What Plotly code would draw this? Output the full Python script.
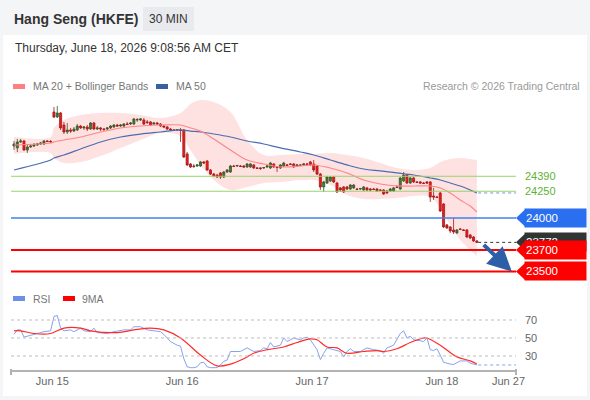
import plotly.graph_objects as go

W, H = 590, 400
FONT = "Liberation Sans, Arial, sans-serif"

# ---------------- data ----------------
opens = [24673,24655,24711,24720,24636,24664,24673,24683,24692,24692,24720,24715,
         24991,24944,24982,24869,24804,24823,24813,24823,24860,24842,24851,24832,24888,24832,24842,24832,24832,24842,
         24851,24869,24860,24860,24879,24879,24879,24916,24916,24916,24898,24898,24879,24888,24879,24860,24851,24832,
         24823,24823,24823,24823,
         24599,24505,24486,24486,24486,24524,24533,24449,24411,24402,24421,24383,24430,24430,24486,24486,24486,24486,
         24477,24477,24496,24468,24468,24468,24477,24468,24505,24477,24468,24486,24496,24505,24505,24486,24496,24496,
         24505,24524,24505,24486,24411,24290,24327,24346,24383,24327,24281,24290,24290,24271,24281,24271,24271,24262,
         24281,24271,24271,24271,24262,24262,24252,24252,24252,24290,24271,24346,24402,24327,24374,24337,24337,24327,
         24337,24337,24206,24196,24234,24131,23935,23916,23888,23860,23897,23888,23888,23841,23822,23785]
closes = [24692,24711,24720,24636,24664,24673,24683,24692,24701,24720,24715,24711,
          24944,24982,24842,24804,24823,24813,24832,24860,24842,24851,24832,24888,24832,24842,24832,24828,24842,24860,
          24869,24860,24869,24879,24875,24888,24926,24920,24926,24879,24894,24869,24888,24879,24860,24851,24832,24823,
          24820,24827,24818,24570,
          24496,24477,24482,24496,24524,24514,24449,24411,24393,24383,24383,24430,24449,24486,24482,24491,24482,24477,
          24505,24505,24468,24464,24463,24472,24486,24514,24477,24473,24496,24514,24492,24501,24477,24496,24492,24505,
          24501,24496,24449,24411,24290,24337,24383,24383,24337,24243,24262,24243,24271,24308,24308,24267,24275,24290,
          24262,24262,24267,24252,24258,24224,24234,24271,24281,24286,24374,24402,24327,24374,24337,24333,24327,24323,
          24327,24196,24196,24192,24065,23916,23907,23879,23869,23888,23893,23884,23822,23813,23785,23772]
highs = [24720,24739,24739,24729,24683,24683,24701,24701,24711,24729,24729,24729,
         25038,25047,24991,24898,24888,24842,24851,24879,24869,24860,24869,24898,24898,24860,24851,24842,24851,24869,
         24879,24879,24879,24888,24898,24898,24935,24935,24935,24935,24916,24907,24898,24898,24888,24869,24860,24842,
         24832,24832,24842,24832,
         24617,24514,24505,24505,24533,24533,24542,24458,24421,24411,24430,24440,24458,24496,24496,24496,24496,24496,
         24514,24514,24505,24477,24477,24477,24496,24524,24514,24486,24505,24524,24505,24514,24514,24505,24505,24514,
         24514,24533,24542,24496,24421,24346,24393,24393,24393,24337,24290,24299,24299,24318,24318,24281,24281,24299,
         24290,24281,24281,24281,24271,24271,24262,24281,24290,24308,24383,24430,24411,24383,24383,24346,24346,24337,
         24346,24346,24281,24206,24243,24140,23944,23925,24000,23897,23907,23897,23897,23850,23832,23794]
lows = [24636,24617,24701,24627,24608,24655,24664,24673,24683,24683,24711,24701,
        24935,24935,24823,24785,24785,24795,24804,24813,24832,24823,24813,24823,24823,24823,24813,24813,24823,24832,
        24842,24851,24851,24851,24869,24869,24869,24898,24907,24869,24879,24860,24869,24869,24851,24842,24823,24813,
        24813,24813,24711,24561,
        24486,24468,24468,24477,24477,24505,24440,24402,24383,24374,24365,24374,24421,24421,24477,24477,24477,24468,
        24468,24468,24458,24458,24449,24458,24468,24458,24468,24430,24458,24477,24486,24496,24468,24477,24486,24486,
        24496,24486,24430,24402,24262,24243,24318,24337,24327,24234,24243,24234,24262,24262,24271,24262,24262,24252,
        24252,24252,24262,24243,24252,24215,24224,24243,24243,24281,24262,24337,24318,24318,24327,24327,24318,24318,
        24318,24150,24168,24187,24056,23907,23897,23860,23850,23850,23888,23879,23813,23803,23776,23766]

band_idx = [0, 11, 12, 15, 20, 26, 32, 38, 44, 50, 53, 56, 60, 65, 70, 75, 80, 86, 90, 95,
            100, 105, 110, 115, 120, 125, 128, 131, 134, 137, 139]
ma20 = [24683,24701,24711,24729,24757,24804,24842,24860,24869,24869,24842,24813,24739,24636,24542,24505,
        24477,24486,24496,24468,24421,24355,24318,24299,24299,24299,24281,24234,24168,24112,24056]
bb_upper = [24757,24757,24842,24916,24963,24982,24982,24963,24935,24982,25066,25103,25085,24991,24729,24589,
            24589,24599,24599,24608,24589,24561,24514,24468,24449,24468,24524,24552,24561,24552,24542]
bb_lower = [24598,24608,24561,24514,24524,24580,24655,24729,24795,24767,24636,24496,24355,24262,24290,24327,
            24337,24355,24355,24308,24215,24178,24178,24187,24206,24196,24094,23935,23794,23701,23645]
ma50 = [24449,24542,24561,24589,24645,24711,24757,24785,24804,24823,24813,24804,24785,24757,24720,24692,
        24655,24617,24589,24542,24496,24458,24440,24421,24402,24374,24355,24327,24299,24262,24234]

rsi_idx = [0,1,2,3,5,7,9,11,12,13,14,15,17,18,20,21,23,24,25,28,30,33,35,36,38,40,42,44,45,47,
           49,50,51,52,53,54,55,56,57,58,59,60,61,62,63,64,65,68,70,72,74,75,76,77,78,80,81,82,84,86,
           87,88,89,91,92,93,94,96,98,99,100,101,102,104,106,108,110,111,112,114,115,116,117,118,119,120,
           122,123,124,125,126,127,128,129,131,132,134,136,137,139]
rsi_vals = [54,59,59,51,53,55,57,58,74,75,61,58,59,57,61,58,57,61,56,55,57,59,59,62.5,62.5,59,58,57,54,46,
            42,41,27,18,17,17,18,22.5,23,18,17,17,17,20,24,25.5,35,35,39,35,36,39,38,45,40,42,50,46,50,48,
            50,51,48,37,26,33,39,37,35,29,35,38,35,35,39,37,36,33,39,42,49,55,58,50,52,48,
            47,46,50,37,36,38,31,23,21,20.5,24.5,24.5,22,20]
rsi_ma_idx = [0,2,6,11,15,20,23,31,36,41,45,50,56,61,65,69,72,76,81,85,89,91,94,97,100,105,109,111,115,
              119,123,124,128,133,137,139]
rsi_ma_vals = [58,58,55,55,61,61,58,56,59,61,59,50,31,19,21,27,33,37,40,45,49,48,40,39,33,35,36,35,38,
               45,50,50,42,29,24.5,21]

tick_pos = [11.5, 50.5, 89.5, 128.5, 148.5]
tick_labels = ["Jun 15", "Jun 16", "Jun 17", "Jun 18", "Jun 27"]

resistances = [24390, 24250]
pivot = 24000
supports = [23700, 23500]
rsi_levels = [70, 50, 30]

# ---------------- geometry ----------------
X_LEFT, X_RIGHT = 11, 516
PRICE_TOP, PRICE_BOT = 95, 283
RSI_TOP, RSI_BOT = 305, 370
X_RANGE = [-0.9, 150.75]
PRICE_RANGE = [23392, 25150]
RSI_RANGE = [14.4, 86.7]


def px(x):
    return x / W


def py(y):
    return 1 - y / H


def price_to_px(v):
    return PRICE_TOP + (PRICE_RANGE[1] - v) / (PRICE_RANGE[1] - PRICE_RANGE[0]) * (PRICE_BOT - PRICE_TOP)


xs = list(range(len(closes)))

fig = go.Figure()

# Bollinger band fill
fig.add_trace(go.Scatter(x=band_idx, y=bb_upper, mode="lines", line=dict(width=0, shape="spline"),
                         hoverinfo="skip", xaxis="x", yaxis="y"))
fig.add_trace(go.Scatter(x=band_idx, y=bb_lower, mode="lines", line=dict(width=0, shape="spline"),
                         fill="tonexty", fillcolor="rgba(250,20,20,0.13)", hoverinfo="skip",
                         xaxis="x", yaxis="y"))
fig.add_trace(go.Scatter(x=band_idx, y=ma50, mode="lines", line=dict(color="#4a6db0", width=1.2, shape="spline"),
                         hoverinfo="skip", xaxis="x", yaxis="y"))
fig.add_trace(go.Scatter(x=band_idx, y=ma20, mode="lines", line=dict(color="#ff8585", width=1.1, shape="spline"),
                         hoverinfo="skip", xaxis="x", yaxis="y"))

fig.add_trace(go.Candlestick(
    x=xs, open=opens, high=highs, low=lows, close=closes,
    increasing=dict(fillcolor="#2f8a33", line=dict(color="#2a5c2c", width=0.8)),
    decreasing=dict(fillcolor="#ee1c1c", line=dict(color="#9a1c1c", width=0.8)),
    whiskerwidth=0, hoverinfo="skip", xaxis="x", yaxis="y"))

# RSI pane
fig.add_trace(go.Scatter(x=rsi_idx, y=rsi_vals, mode="lines", line=dict(color="#84a2ee", width=1),
                         hoverinfo="skip", xaxis="x2", yaxis="y2"))
fig.add_trace(go.Scatter(x=rsi_ma_idx, y=rsi_ma_vals, mode="lines",
                         line=dict(color="#ff2a2a", width=1.2, shape="spline"),
                         hoverinfo="skip", xaxis="x2", yaxis="y2"))

shapes = []
# white panel
shapes.append(dict(type="rect", xref="paper", yref="paper", x0=px(3), x1=px(587), y0=py(396), y1=py(35),
                   fillcolor="white", line=dict(width=0), layer="below"))
# timeframe box
shapes.append(dict(type="rect", xref="paper", yref="paper", x0=px(143), x1=px(194), y0=py(31), y1=py(7),
                   fillcolor="#e8eaed", line=dict(width=0), layer="below"))
# legend swatches
for x0, y0, col in [(13, 84, "#ff8080"), (156, 84, "#3b5fa3"), (13, 296, "#6c8fe8"), (63, 296, "#ff0000")]:
    shapes.append(dict(type="rect", xref="paper", yref="paper", x0=px(x0), x1=px(x0 + 12),
                       y0=py(y0 + 5), y1=py(y0), fillcolor=col, line=dict(width=0)))

# level lines
for v in resistances:
    shapes.append(dict(type="line", xref="paper", yref="y", x0=px(X_LEFT), x1=px(X_RIGHT), y0=v, y1=v,
                       line=dict(color="#97d36f", width=1)))
shapes.append(dict(type="line", xref="paper", yref="y", x0=px(X_LEFT), x1=px(X_RIGHT), y0=pivot, y1=pivot,
                   line=dict(color="#3f80f0", width=1.5)))
for v in supports:
    shapes.append(dict(type="line", xref="paper", yref="y", x0=px(X_LEFT), x1=px(X_RIGHT), y0=v, y1=v,
                       line=dict(color="#ff0000", width=2)))

# dotted extensions
last_i = xs[-1]
shapes.append(dict(type="line", xref="x", yref="y", x0=last_i + 0.4, x1=X_RANGE[1], y0=closes[-1], y1=closes[-1],
                   line=dict(color="#333333", width=1, dash="dot")))
shapes.append(dict(type="line", xref="x", yref="y", x0=band_idx[-1] + 0.4, x1=X_RANGE[1], y0=ma50[-1], y1=ma50[-1],
                   line=dict(color="#7d94c4", width=1, dash="dot")))
shapes.append(dict(type="line", xref="x2", yref="y2", x0=rsi_idx[-1] + 0.4, x1=X_RANGE[1],
                   y0=rsi_vals[-1], y1=rsi_vals[-1], line=dict(color="#84a2ee", width=1, dash="dot")))

# RSI grid
for v in rsi_levels:
    shapes.append(dict(type="line", xref="paper", yref="y2", x0=px(X_LEFT), x1=px(X_RIGHT), y0=v, y1=v,
                       line=dict(color="#bdbdbd", width=1, dash="dot")))

# axis end ticks
for xx in (X_LEFT, X_RIGHT):
    shapes.append(dict(type="line", xref="paper", yref="paper", x0=px(xx), x1=px(xx), y0=py(369), y1=py(375),
                       line=dict(color="#b3b3b3", width=2)))

# label pointers
label_specs = [(pivot, "#2a6ff0"), (closes[-1], "#333333"), (supports[0], "#ff0000"), (supports[1], "#ff0000")]
for v, col in label_specs:
    yc = price_to_px(v)
    path = (f"M {px(516)},{py(yc)} L {px(524.5)},{py(yc - 8)} L {px(526)},{py(yc - 8)} "
            f"L {px(526)},{py(yc + 8)} L {px(524.5)},{py(yc + 8)} Z")
    shapes.append(dict(type="path", xref="paper", yref="paper", path=path, fillcolor=col, line=dict(width=0)))

annotations = []


def text(x, y, s, size, color, xanchor="left", yanchor="middle", **kw):
    annotations.append(dict(xref="paper", yref="paper", x=px(x), y=py(y), text=s, showarrow=False,
                            xanchor=xanchor, yanchor=yanchor,
                            font=dict(family=FONT, size=size, color=color), **kw))


text(12, 19, "<b>Hang Seng (HKFE)</b>", 14, "#333333")
text(168.5, 19, "30 MIN", 12, "#333333", xanchor="center")
text(13, 48, "Thursday, June 18, 2026 9:08:56 AM CET", 12, "#333333")
text(31, 86, "MA 20 + Bollinger Bands", 10.5, "#777777")
text(174, 86, "MA 50", 10.5, "#777777")
text(582, 86, "Research © 2026 Trading Central", 10.5, "#999999", xanchor="right")
text(31, 299, "RSI", 10.5, "#777777")
text(80, 299, "9MA", 10.5, "#777777")

for v in resistances:
    annotations.append(dict(xref="paper", yref="y", x=px(523), y=v, text=str(v), showarrow=False,
                            xanchor="left", yanchor="middle", font=dict(family=FONT, size=11, color="#5db234")))
for v in rsi_levels:
    annotations.append(dict(xref="paper", yref="y2", x=px(523), y=v, text=str(v), showarrow=False,
                            xanchor="left", yanchor="middle", font=dict(family=FONT, size=11, color="#666666")))

for v, col in label_specs:
    annotations.append(dict(xref="paper", yref="y", x=px(524), y=v, text=str(v), showarrow=False,
                            xanchor="left", yanchor="middle", align="left", width=59, height=16,
                            borderpad=1, bgcolor=col, font=dict(family=FONT, size=11.5, color="white")))

# forecast arrow towards the lower support
annotations.append(dict(xref="x", yref="y", axref="x", ayref="y", x=149.5, y=supports[1],
                        ax=140.6, ay=closes[-1] - 10, text="", showarrow=True, arrowhead=2,
                        arrowsize=1.2, arrowwidth=4, arrowcolor="#2d5fa8"))

fig.update_layout(
    width=W, height=H,
    margin=dict(l=0, r=0, t=0, b=0, autoexpand=False),
    paper_bgcolor="#f4f5f7", plot_bgcolor="rgba(0,0,0,0)",
    showlegend=False, boxgap=0.12,
    font=dict(family=FONT, color="#666666"),
    xaxis=dict(domain=[px(X_LEFT), px(X_RIGHT)], range=X_RANGE, showticklabels=False, showgrid=False,
               zeroline=False, showline=False, rangeslider=dict(visible=False), anchor="y"),
    yaxis=dict(domain=[py(PRICE_BOT), py(PRICE_TOP)], range=PRICE_RANGE, showticklabels=False, showgrid=False,
               zeroline=False, showline=False, anchor="x"),
    xaxis2=dict(domain=[px(X_LEFT), px(X_RIGHT)], range=X_RANGE, tickmode="array", tickvals=tick_pos,
                ticktext=tick_labels, showgrid=False, zeroline=False, showline=True, linecolor="#b3b3b3",
                linewidth=2, ticks="", tickfont=dict(family=FONT, size=11, color="#666666"), anchor="y2"),
    yaxis2=dict(domain=[py(RSI_BOT), py(RSI_TOP)], range=RSI_RANGE, showticklabels=False, showgrid=False,
                zeroline=False, showline=False, anchor="x2"),
    shapes=shapes,
    annotations=annotations,
)

fig.write_html("out.html", config={"displayModeBar": False},
               post_script="document.body.style.margin='0px';document.body.style.overflow='hidden';")
